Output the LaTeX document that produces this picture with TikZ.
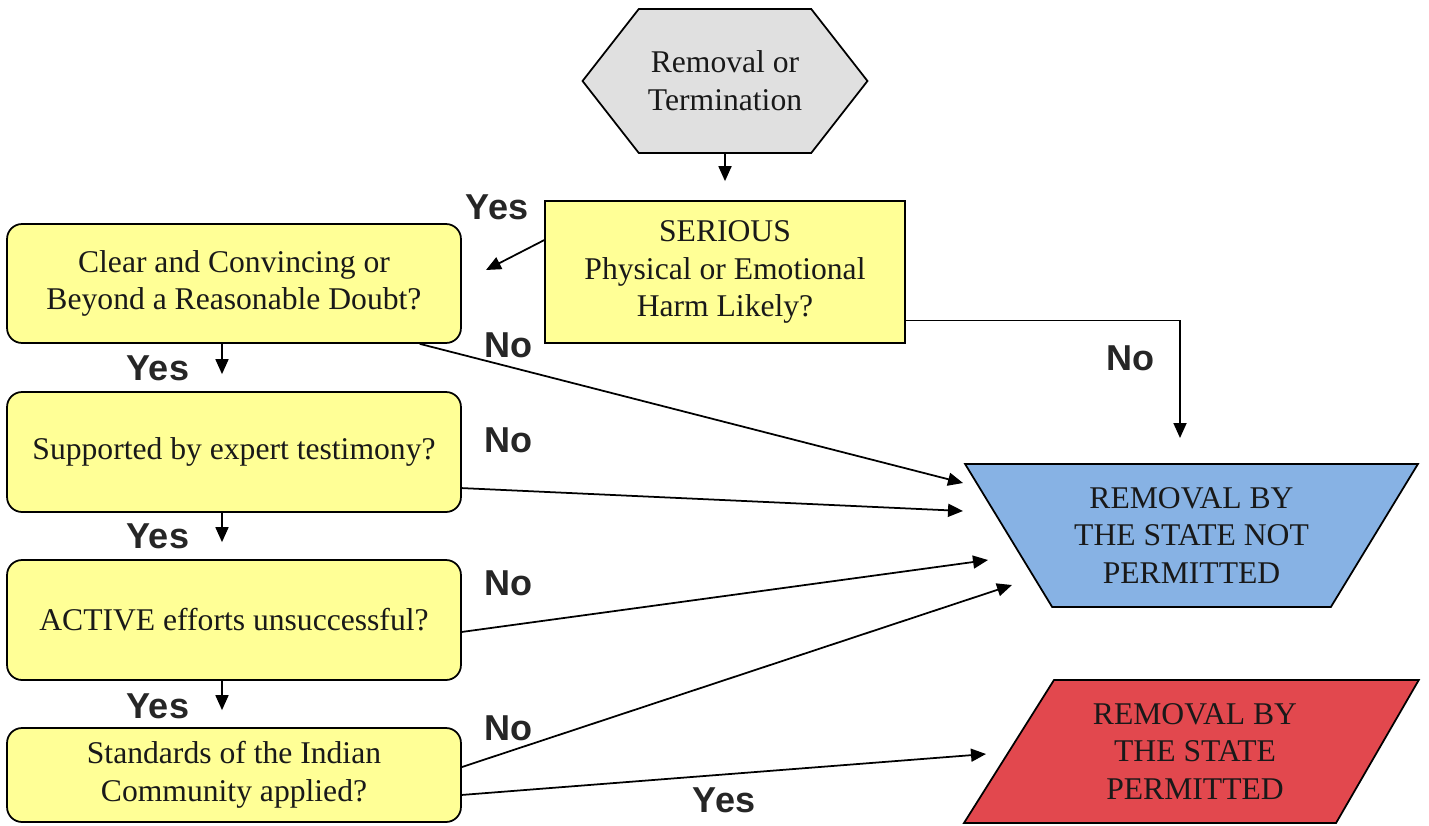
\documentclass[tikz,border=0pt]{standalone}
\usepackage{fontspec}
\setmainfont{Liberation Serif}
\setsansfont{Liberation Sans}
\usetikzlibrary{shapes.geometric,shapes.symbols,arrows.meta}
\definecolor{hexgray}{RGB}{224,224,224}
\definecolor{qyellow}{RGB}{255,255,150}
\definecolor{stopblue}{RGB}{135,178,228}
\definecolor{gored}{RGB}{226,72,78}

\begin{document}
\begin{tikzpicture}[x=0.02cm,y=-0.02cm,>={Triangle[length=0.3cm,width=0.26cm]},line width=1pt,
    txt/.style={font=\fontsize{18}{21.5}\selectfont,align=center,text=black!90,inner sep=0pt},
    qbox/.style={txt,draw,fill=qyellow,rounded corners=0.3cm,minimum width=9.08cm},
    lbl/.style={font=\sffamily\bfseries\fontsize{20.5}{22}\selectfont,text=black!85}]
    \useasboundingbox (0,0) rectangle (1429,825);
    \node[txt,draw,fill=hexgray,signal,signal to=west and east,signal pointer angle=104,
        minimum width=5.7cm,minimum height=2.88cm] (start) at (725,81) {Removal or\\Termination};
    \node[txt,draw,fill=qyellow,minimum width=7.2cm,minimum height=2.84cm] (harm) at (725,272)
        {SERIOUS\\Physical or Emotional\\Harm Likely?};
    \node[qbox,minimum height=2.38cm] (q1) at (234,283.5) {Clear and Convincing or\\Beyond a Reasonable Doubt?};
    \node[qbox,minimum height=2.4cm] (q2) at (234,452) {Supported by expert testimony?};
    \node[qbox,minimum height=2.4cm] (q3) at (234,620) {ACTIVE efforts unsuccessful?};
    \node[qbox,minimum height=1.88cm] (q4) at (234,775) {Standards of the Indian\\Community applied?};
    \node[txt,draw,fill=stopblue,trapezium,trapezium left angle=52.8,trapezium right angle=52.8,
        shape border rotate=180,trapezium stretches=true,minimum width=9.06cm,minimum height=2.86cm]
        (notok) at (1191.5,535.5) {REMOVAL BY\\THE STATE NOT\\PERMITTED};
    \node[txt,draw,fill=gored,trapezium,trapezium left angle=56,trapezium right angle=121.8,
        trapezium stretches=true,minimum width=9.12cm,minimum height=2.86cm]
        (ok) at (1195,751.5) {REMOVAL BY\\THE STATE\\PERMITTED};
    \coordinate (yesend) at (486,270);
    \coordinate (noend) at (1180,438);
    \coordinate (e1) at (963,483);
    \coordinate (e2) at (963,511);
    \coordinate (e3) at (988,560);
    \coordinate (e4) at (1012,585);
    \coordinate (e5) at (986,754);
    \draw[->,shorten >=0.38cm] (start.south) -- (harm.north);
    \draw[->] (harm.170) -- (yesend);
    \draw[->] (harm.-15) -| (noend);
    \foreach \a/\b in {q1/q2, q2/q3, q3/q4}
    {
        \draw[->,shorten >=0.34cm] ([xshift=-0.24cm]\a.south) -- ([xshift=-0.24cm]\b.north);
    }
    \foreach \s/\e in {q1.-18/e1, q2.-9/e2, q3.-3/e3, q4.2.5/e4}
    {
        \draw[->] (\s) -- (\e);
    }
    \draw[->] (q4.-5.6) -- (e5);
    \node[lbl] (yes0) at (497,207) {Yes};
    \node[lbl] (yes1) at (158,368) {Yes};
    \node[lbl] (yes2) at (158,536) {Yes};
    \node[lbl] (yes3) at (158,706) {Yes};
    \node[lbl] (yes4) at (724,800) {Yes};
    \node[lbl] (no0) at (1130,358) {No};
    \node[lbl] (no1) at (508,345) {No};
    \node[lbl] (no2) at (508,440) {No};
    \node[lbl] (no3) at (508,583) {No};
    \node[lbl] (no4) at (508,728) {No};
\end{tikzpicture}
\end{document}
